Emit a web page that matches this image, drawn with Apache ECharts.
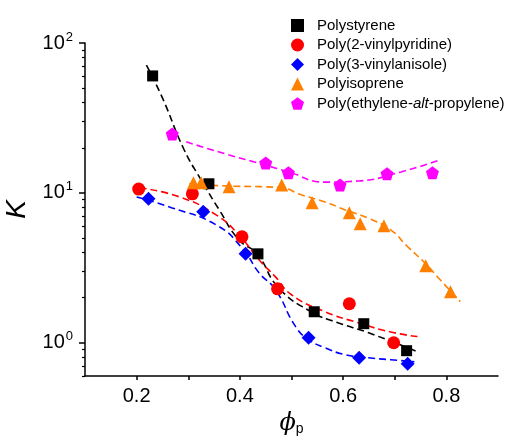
<!DOCTYPE html>
<html>
<head>
<meta charset="utf-8">
<script src="https://cdn.jsdelivr.net/npm/echarts@6/dist/echarts.min.js"></script>
<style>
  html, body { margin: 0; padding: 0; background: #fff; }
  #main { width: 515px; height: 442px; }
</style>
</head>
<body>
<div id="main"></div>
<script>
// measured points
var psX = [0.231, 0.340, 0.435, 0.544, 0.640, 0.723];
var psY = [60.3, 11.5, 3.92, 1.61, 1.34, 0.885];
var p2vpX = [0.204, 0.308, 0.404, 0.473, 0.612, 0.698];
var p2vpY = [10.6, 9.85, 5.09, 2.29, 1.82, 1.00];
var p3vaX = [0.223, 0.329, 0.411, 0.533, 0.631, 0.725];
var p3vaY = [9.12, 7.47, 3.92, 1.08, 0.794, 0.724];
var piX = [0.310, 0.325, 0.379, 0.481, 0.540, 0.612, 0.633, 0.679, 0.760, 0.808];
var piY = [11.7, 11.7, 11.0, 11.3, 8.58, 7.36, 6.22, 6.03, 3.26, 2.19];
var pepX = [0.269, 0.450, 0.494, 0.594, 0.685, 0.773];
var pepY = [24.7, 15.8, 13.6, 11.3, 13.4, 13.6];

// dashed fit curves
var psFitX = [0.219, 0.250, 0.292, 0.325, 0.360, 0.398, 0.433, 0.475, 0.538, 0.590, 0.648, 0.744];
var psFitY = [71.3, 43, 19.4, 12.2, 7.7, 4.86, 3.92, 2.33, 1.61, 1.36, 1.17, 0.871];
var p2vpFitX = [0.206, 0.283, 0.354, 0.398, 0.437, 0.469, 0.500, 0.565, 0.629, 0.692, 0.744];
var p2vpFitY = [10.8, 9.4, 7.13, 5.25, 3.58, 2.75, 2.09, 1.61, 1.36, 1.18, 1.10];
var p3vaFitX = [0.200, 0.269, 0.354, 0.404, 0.437, 0.469, 0.508, 0.533, 0.565, 0.604, 0.648, 0.692, 0.738];
var p3vaFitY = [9.4, 7.94, 6.12, 4.30, 2.93, 2.26, 1.28, 1.05, 0.926, 0.832, 0.794, 0.77, 0.747];
var piFitX = [0.302, 0.379, 0.437, 0.481, 0.519, 0.565, 0.604, 0.648, 0.692, 0.725, 0.758, 0.788, 0.827];
var piFitY = [11.5, 11.1, 11.0, 10.8, 9.7, 8.7, 7.7, 6.8, 5.67, 4.37, 3.42, 2.63, 1.88];
var pepFitX = [0.296, 0.379, 0.442, 0.494, 0.565, 0.629, 0.712, 0.788];
var pepFitY = [21.9, 17.9, 15.6, 13.8, 11.8, 12.0, 13.8, 16.6];

// axis ticks
var yMajorTicks = [1, 10, 100];
var yMinorTicks = [0.6, 0.7, 0.8, 0.9, 2, 3, 4, 5, 6, 7, 8, 9, 20, 30, 40, 50, 60, 70, 80, 90];

var names = ['Polystyrene', 'Poly(2-vinylpyridine)', 'Poly(3-vinylanisole)', 'Polyisoprene', 'Poly(ethylene-alt-propylene)'];
var colors = ['#000000', '#ff0000', '#0000ff', '#ff8000', '#ff00ff'];
var pentagon = 'path://M0,-10L9.51,-3.09L5.88,8.09L-5.88,8.09L-9.51,-3.09Z';

function pairs(xs, ys) {
  return xs.map(function (x, i) { return [x, ys[i]]; });
}

var FONT = 'Arial, "Liberation Sans", sans-serif';

var myChart = echarts.init(document.getElementById('main'), null, {renderer: 'canvas'});

function fit(xs, ys, color) {
  return {
    type: 'line',
    name: 'fit',
    data: pairs(xs, ys),
    smooth: 0.5,
    showSymbol: false,
    silent: true,
    z: 2,
    lineStyle: {color: color, width: 1.6, type: [7, 4]}
  };
}

function pts(name, xs, ys, color, symbol, size) {
  return {
    type: 'scatter',
    name: name,
    data: pairs(xs, ys),
    symbol: symbol,
    symbolSize: size,
    z: 5,
    itemStyle: {color: color, opacity: 1}
  };
}

var option = {
  animation: false,
  grid: {left: 85, right: 17, top: 43, bottom: 66, containLabel: false, outerBoundsMode: 'none'},
  legend: {
    orient: 'vertical',
    left: 286,
    top: 13,
    itemWidth: 13,
    itemHeight: 13,
    itemGap: 4.5,
    data: [
      {name: names[0], icon: 'rect'},
      {name: names[1], icon: 'circle'},
      {name: names[2], icon: 'diamond'},
      {name: names[3], icon: 'triangle'},
      {name: names[4], icon: pentagon}
    ],
    formatter: function (n) {
      if (n === names[4]) return 'Poly(ethylene-{i|alt}-propylene)';
      return n;
    },
    textStyle: {
      fontFamily: FONT, fontSize: 15, color: '#000',
      padding: [0, 0, 0, 8],
      rich: {i: {fontFamily: FONT, fontSize: 15, fontStyle: 'italic', color: '#000'}}
    }
  },
  xAxis: {
    type: 'value',
    min: 0.1,
    max: 0.9,
    interval: 0.1,
    name: '{phi|ϕ}{sub|p}',
    nameLocation: 'middle',
    nameGap: 36,
    nameTextStyle: {
      rich: {
        phi: {fontFamily: '"DejaVu Serif", serif', fontStyle: 'italic', fontSize: 24, color: '#000'},
        sub: {fontFamily: FONT, fontSize: 14, color: '#000', padding: [10, 0, 0, 0]}
      }
    },
    axisLine: {lineStyle: {color: '#000', width: 1.5}},
    axisTick: {inside: false, length: 4, lineStyle: {color: '#000', width: 1.5}},
    splitLine: {show: false},
    axisLabel: {
      margin: 10,
      fontFamily: FONT,
      fontSize: 20,
      color: '#000',
      showMinLabel: false,
      showMaxLabel: false,
      formatter: function (v) {
        var t = Math.round(v * 10);
        return t % 2 === 0 ? (t / 10).toFixed(1) : '';
      }
    }
  },
  yAxis: [
    {
      type: 'log',
      logBase: 10,
      min: 0.6,
      max: 100,
      name: 'K',
      nameLocation: 'middle',
      nameGap: 48,
      nameTextStyle: {fontFamily: FONT, fontStyle: 'italic', fontSize: 28, color: '#000'},
      axisLine: {show: true, lineStyle: {color: '#000', width: 1.5}},
      axisTick: {show: true, length: 6, customValues: yMajorTicks, lineStyle: {color: '#000', width: 1.5}},
      splitLine: {show: false},
      axisLabel: {
        margin: 12,
        customValues: yMajorTicks,
        formatter: function (v) {
          return '10{sup|' + Math.round(Math.log10(v)) + '}';
        },
        fontFamily: FONT,
        fontSize: 20,
        color: '#000',
        rich: {sup: {fontFamily: FONT, fontSize: 13, color: '#000', verticalAlign: 'bottom', padding: [0, 0, 12, 1]}}
      }
    },
    {
      type: 'log',
      logBase: 10,
      min: 0.6,
      max: 100,
      position: 'left',
      axisLine: {show: false},
      axisTick: {show: true, length: 3, customValues: yMinorTicks, lineStyle: {color: '#000', width: 1.2}},
      axisLabel: {show: false},
      splitLine: {show: false}
    }
  ],
  series: [
    fit(psFitX, psFitY, colors[0]),
    fit(p2vpFitX, p2vpFitY, colors[1]),
    fit(p3vaFitX, p3vaFitY, colors[2]),
    fit(piFitX, piFitY, colors[3]),
    fit(pepFitX, pepFitY, colors[4]),
    pts(names[0], psX, psY, colors[0], 'rect', 11),
    pts(names[1], p2vpX, p2vpY, colors[1], 'circle', 13),
    pts(names[2], p3vaX, p3vaY, colors[2], 'diamond', 14),
    pts(names[3], piX, piY, colors[3], 'triangle', 13),
    pts(names[4], pepX, pepY, colors[4], pentagon, 13)
  ]
};

myChart.setOption(option);
window.addEventListener('resize', function () {
  myChart.resize();
});
</script>
</body>
</html>
